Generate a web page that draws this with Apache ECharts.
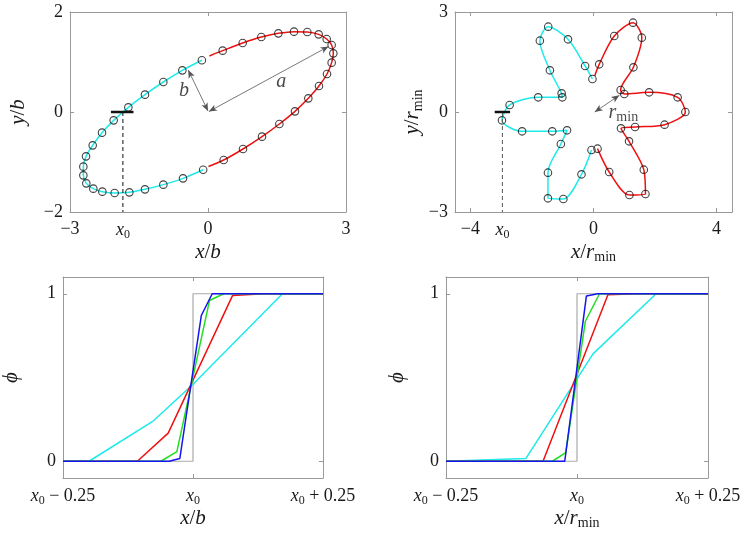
<!DOCTYPE html>
<html><head><meta charset="utf-8">
<script src="https://cdn.jsdelivr.net/npm/echarts@6/dist/echarts.min.js"></script>
<style>html,body{margin:0;padding:0;background:#fff}#c{width:747px;height:536px}</style>
</head><body><div id="c"></div><script>
// ---------- data ----------
const X0_ELLIPSE = -1.85;
const X0_FLOWER = -2.96;

const ellipseRedMarkers = [[0.319,1.227],[0.754,1.38],[1.159,1.5],[1.529,1.573],[1.87,1.607],[2.159,1.6],[2.406,1.553],[2.58,1.46],[2.688,1.34],[2.725,1.173],[2.688,0.987],[2.587,0.76],[2.413,0.52],[2.181,0.273],[1.891,0.013],[1.551,-0.24],[1.174,-0.493],[0.761,-0.74],[0.341,-0.96]];
const ellipseRedStart = [0.03,1.12];
const ellipseRedEnd = [0.01,-1.09];
const ellipseCyanMarkers = [[-0.105,-1.155],[-0.543,-1.327],[-0.971,-1.453],[-1.37,-1.547],[-1.71,-1.607],[-2.029,-1.62],[-2.297,-1.593],[-2.493,-1.533],[-2.645,-1.427],[-2.71,-1.267],[-2.71,-1.093],[-2.652,-0.887],[-2.507,-0.667],[-2.304,-0.413],[-2.051,-0.167],[-1.732,0.093],[-1.37,0.347],[-0.971,0.6],[-0.558,0.833],[-0.133,1.035]];

const flowerRedMarkers = [[0.185,1.43],[0.675,2.28],[1.285,2.68],[1.569,2.23],[1.296,1.34],[0.882,0.66],[1.0,0.54],[1.808,0.59],[2.734,0.44],[2.985,0.0],[2.309,-0.38],[1.351,-0.45],[0.893,-0.49],[1.155,-0.88],[1.634,-1.73],[1.688,-2.46],[1.166,-2.49],[0.51,-1.8],[0.131,-1.1]];
const flowerRedStart = [0.04,1.08];
const flowerCyanMarkers = [[-0.065,-1.14],[-0.39,-1.87],[-0.98,-2.61],[-1.48,-2.59],[-1.48,-1.82],[-1.06,-0.96],[-0.86,-0.55],[-1.34,-0.58],[-2.32,-0.58],[-2.974,-0.25],[-2.725,0.21],[-1.797,0.44],[-1.013,0.44],[-1.036,0.56],[-1.416,1.25],[-1.743,2.14],[-1.471,2.56],[-0.828,2.18],[-0.272,1.38],[-0.035,0.99]];

// bottom panels: offset from x0, phi
const stepRef = [[-0.25,0],[0,0],[0,1],[0.25,1]];
const phiLeftCyan  = [[-0.25,0],[-0.2,0],[-0.076,0.2415],[0.0,0.46],[0.172,1],[0.25,1]];
const phiLeftRed   = [[-0.25,0],[-0.107,0],[-0.0477,0.168],[0.0762,0.99],[0.135,1],[0.25,1]];
const phiLeftGreen = [[-0.25,0],[-0.0616,0],[-0.031,0.058],[0.0318,0.96],[0.059,1],[0.25,1]];
const phiLeftBlue  = [[-0.25,0],[-0.0457,0],[-0.0254,0.016],[0.016,0.87],[0.037,1],[0.25,1]];
const phiRightCyan  = [[-0.25,0],[-0.0977,0.016],[0.0305,0.641],[0.151,1],[0.25,1]];
const phiRightRed   = [[-0.25,0],[-0.0648,0],[0.059,0.994],[0.113,1],[0.25,1]];
const phiRightGreen = [[-0.25,0],[-0.047,0],[-0.0215,0.052],[0.016,0.836],[0.043,1],[0.25,1]];
const phiRightBlue  = [[-0.25,0],[-0.0234,0],[0.0179,0.986],[0.04,1],[0.25,1]];

const ticksEllX = [-3,0,3], ticksEllY = [-2,0,2];
const ticksFlwX = [-4,0,4], ticksFlwY = [-3,0,3];
const ticksPhiX = [-0.25,0,0.25], ticksPhiY = [0,1];

// ---------- style ----------
const F = 'Liberation Serif, DejaVu Serif, serif';
const TXT = '#1a1a1a';
const AX = '#999';
const C_CYAN = '#1eeaea', C_RED = '#ee1111', C_GREEN = '#22dd22', C_BLUE = '#1515ee';
const RICH = {
  i:{fontStyle:'italic',fontFamily:F,fontSize:18,color:TXT},
  n:{fontFamily:F,fontSize:18,color:TXT},
  s:{fontFamily:F,fontSize:12,color:TXT,padding:[9,0,0,0]}
};
const RICH_NAME = {
  i:{fontStyle:'italic',fontFamily:F,fontSize:21,color:TXT},
  n:{fontFamily:F,fontSize:21,color:TXT},
  s:{fontFamily:F,fontSize:14,color:TXT,padding:[10,0,0,0]}
};
const minus = v => (v<0 ? '\u2212'+(-v) : String(v));

const grids = [
  {left:70, top:12, width:276, height:200},
  {left:455, top:12, width:277, height:200},
  {left:61, top:277, width:262, height:201},
  {left:446, top:277, width:262, height:201}
];

function mainX(gi, min, max, labelVals, tickVals, fmt, name, gap){
  return {type:'value', gridIndex:gi, min, max, position:'bottom',
    axisLine:{show:true, onZero:false, lineStyle:{color:AX,width:1}},
    axisTick:{show:true, inside:true, length:4, customValues:tickVals, lineStyle:{color:AX}},
    axisLabel:{show:true, customValues:labelVals, formatter:fmt, margin:8, fontFamily:F, fontSize:18, color:TXT, rich:RICH},
    splitLine:{show:false},
    name, nameLocation:'middle', nameGap:gap, nameTextStyle:{fontFamily:F,fontSize:21,color:TXT,rich:RICH_NAME}};
}
function mirrorX(gi,min,max,tickVals){
  return {type:'value', gridIndex:gi, min, max, position:'top',
    axisLine:{show:true, onZero:false, lineStyle:{color:AX,width:1}},
    axisTick:{show:true, inside:true, length:4, customValues:tickVals, lineStyle:{color:AX}},
    axisLabel:{show:false}, splitLine:{show:false}};
}
function mainY(gi,min,max,labelVals,tickVals,fmt,name,gap){
  return {type:'value', gridIndex:gi, min, max, position:'left',
    axisLine:{show:true, onZero:false, lineStyle:{color:AX,width:1}},
    axisTick:{show:true, inside:true, length:4, customValues:tickVals, lineStyle:{color:AX}},
    axisLabel:{show:true, customValues:labelVals, formatter:fmt, margin:7, fontFamily:F, fontSize:18, color:TXT, rich:RICH},
    splitLine:{show:false},
    name, nameLocation:'middle', nameGap:gap, nameRotate:90, nameTextStyle:{fontFamily:F,fontSize:21,color:TXT,rich:RICH_NAME}};
}
function mirrorY(gi,min,max,tickVals){
  return {type:'value', gridIndex:gi, min, max, position:'right',
    axisLine:{show:true, onZero:false, lineStyle:{color:AX,width:1}},
    axisTick:{show:true, inside:true, length:4, customValues:tickVals, lineStyle:{color:AX}},
    axisLabel:{show:false}, splitLine:{show:false}};
}

const x0Fmt = (x0) => v => (Math.abs(v-x0)<1e-6 ? '{i|x}{s|0}' : minus(v));
const phiXFmt = v => v < -0.1 ? '{i|x}{s|0}{n| \u2212 0.25}' : (v > 0.1 ? '{i|x}{s|0}{n| + 0.25}' : '{i|x}{s|0}');

const xAxis = [
  mainX(0,-3,3,[-3,X0_ELLIPSE,0,3],ticksEllX,x0Fmt(X0_ELLIPSE),'{i|x}/{i|b}',24),
  mirrorX(0,-3,3,ticksEllX),
  mainX(1,-4.5,4.5,[-4,X0_FLOWER,0,4],ticksFlwX,x0Fmt(X0_FLOWER),'{i|x}/{i|r}{s|min}',23),
  mirrorX(1,-4.5,4.5,ticksFlwX),
  mainX(2,-0.25,0.25,ticksPhiX,ticksPhiX,phiXFmt,'{i|x}/{i|b}',23),
  mirrorX(2,-0.25,0.25,ticksPhiX),
  mainX(3,-0.25,0.25,ticksPhiX,ticksPhiX,phiXFmt,'{i|x}/{i|r}{s|min}',23),
  mirrorX(3,-0.25,0.25,ticksPhiX)
];
const yAxis = [
  mainY(0,-2,2,ticksEllY,ticksEllY,minus,'{i|y}/{i|b}',41),
  mirrorY(0,-2,2,ticksEllY),
  mainY(1,-3,3,ticksFlwY,ticksFlwY,minus,'{i|y}/{i|r}{s|min}',30),
  mirrorY(1,-3,3,ticksFlwY),
  mainY(2,-0.1,1.1,ticksPhiY,ticksPhiY,minus,'{i|\u03d5}',41),
  mirrorY(2,-0.1,1.1,ticksPhiY),
  mainY(3,-0.1,1.1,ticksPhiY,ticksPhiY,minus,'{i|\u03d5}',38),
  mirrorY(3,-0.1,1.1,ticksPhiY)
];

function lineS(xi, yi, data, color, width, smooth, dash){
  return {type:'line', xAxisIndex:xi, yAxisIndex:yi, data, showSymbol:false, symbol:'none',
    smooth: smooth||false, lineStyle:{color, width, type: dash||'solid'}, silent:true, animation:false, z:2};
}
function markS(xi, yi, data){
  return {type:'scatter', xAxisIndex:xi, yAxisIndex:yi, data, symbol:'circle', symbolSize:7.5,
    itemStyle:{color:'rgba(0,0,0,0)', borderColor:'#111', borderWidth:1.1}, silent:true, animation:false, z:3};
}
function textS(xi, yi, pos, text, arrows){
  const s = {type:'scatter', xAxisIndex:xi, yAxisIndex:yi, data:[pos], symbolSize:1,
    itemStyle:{color:'rgba(0,0,0,0)'}, silent:true, animation:false, z:4,
    label:{show:true, position:'inside', formatter:text, fontFamily:F, fontSize:18, color:TXT, rich:{
      i:{fontStyle:'italic',fontFamily:F,fontSize:20,color:TXT},
      s:{fontFamily:F,fontSize:14,color:TXT,padding:[10,0,0,0]}}}};
  if (arrows) s.markLine = {silent:true, animation:false, symbol:['arrow','arrow'], symbolSize:[5,8],
    lineStyle:{color:'#555', width:0.8, type:'solid'}, label:{show:false},
    data: arrows.map(a => [{coord:a[0]},{coord:a[1]}])};
  return s;
}

const series = [
  // ellipse
  lineS(0,0,[ellipseRedStart].concat(ellipseRedMarkers,[ellipseRedEnd]),C_RED,1.5,0.3),
  lineS(0,0,ellipseCyanMarkers,C_CYAN,1.5,0.3),
  markS(0,0,ellipseRedMarkers.concat(ellipseCyanMarkers)),
  lineS(0,0,[[X0_ELLIPSE,0],[X0_ELLIPSE,-2]],'#111',1,false,[4,3]),
  lineS(0,0,[[X0_ELLIPSE-0.26,0],[X0_ELLIPSE+0.23,0]],'#111',2.5),
  textS(0,0,[1.59,0.6],'{i|a}',[[[0.02,0.01],[2.62,1.31]],[[0.0,0.02],[-0.43,0.84]]]),
  textS(0,0,[-0.52,0.42],'{i|b}'),
  // flower
  lineS(2,2,[flowerRedStart].concat(flowerRedMarkers),C_RED,1.5,0.3),
  lineS(2,2,flowerCyanMarkers,C_CYAN,1.5,0.3),
  markS(2,2,flowerRedMarkers.concat(flowerCyanMarkers)),
  lineS(2,2,[[X0_FLOWER,0],[X0_FLOWER,-3]],'#555',1,false,[4,3]),
  lineS(2,2,[[X0_FLOWER-0.25,0],[X0_FLOWER+0.25,0]],'#111',2.5),
  textS(2,2,[0.97,-0.02],'{i|r}{s|min}',[[[0.04,0.0],[0.84,0.5]]]),
  // phi left
  lineS(4,4,stepRef,'#aaa',1.2),
  lineS(4,4,phiLeftCyan,C_CYAN,1.5),
  lineS(4,4,phiLeftRed,C_RED,1.5),
  lineS(4,4,phiLeftGreen,C_GREEN,1.5),
  lineS(4,4,phiLeftBlue,C_BLUE,1.5),
  // phi right
  lineS(6,6,stepRef,'#aaa',1.2),
  lineS(6,6,phiRightCyan,C_CYAN,1.5),
  lineS(6,6,phiRightRed,C_RED,1.5),
  lineS(6,6,phiRightGreen,C_GREEN,1.5),
  lineS(6,6,phiRightBlue,C_BLUE,1.5)
];

const chart = echarts.init(document.getElementById('c'), null, {renderer:'canvas'});
chart.setOption({backgroundColor:'#fff', animation:false, grid:grids, xAxis, yAxis, series});
</script></body></html>
